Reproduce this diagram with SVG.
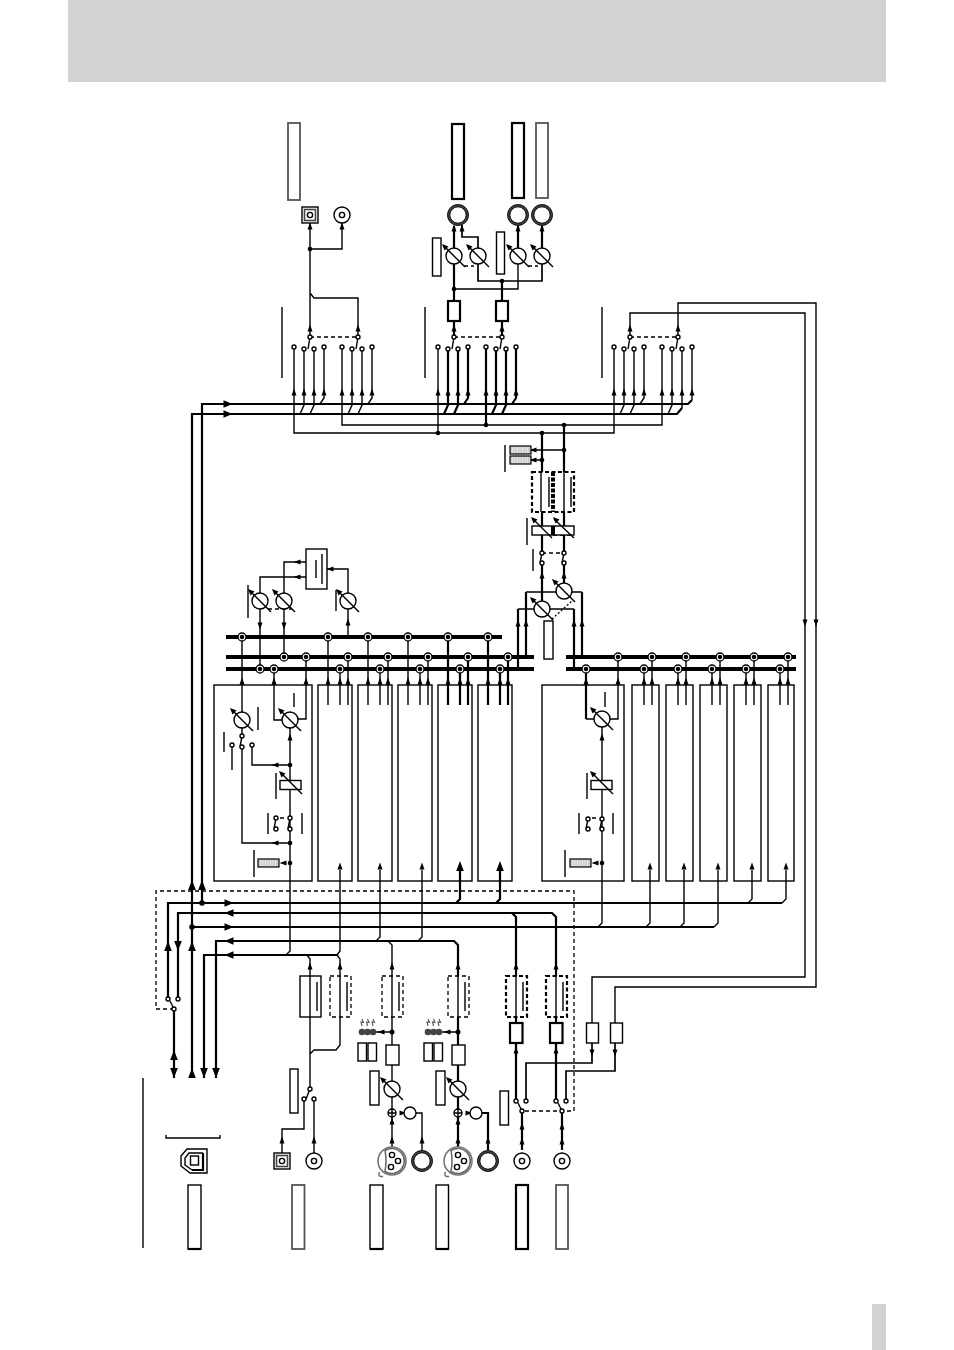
<svg xmlns="http://www.w3.org/2000/svg" width="954" height="1350" viewBox="0 0 954 1350">
<style>
.t{fill:none;stroke:#000;stroke-width:1.4}
.s{fill:none;stroke:#000;stroke-width:1.7}
.m{fill:none;stroke:#000;stroke-width:2.2}
.b{fill:none;stroke:#000;stroke-width:4}
.g{fill:none;stroke:#666;stroke-width:1.5}
.d{fill:none;stroke:#000;stroke-width:1.3;stroke-dasharray:4 3}
.dm{fill:none;stroke:#000;stroke-width:2.2;stroke-dasharray:4 2.5}
.w{fill:#fff;stroke:#000;stroke-width:1.4}
.wm{fill:#fff;stroke:#000;stroke-width:2.2}
.wg{fill:#fff;stroke:#555;stroke-width:1.8}
.k{fill:#000;stroke:none}
</style>
<defs>
<path id="u" d="M0 -4.500L2.500 2.500H-2.500Z"/>
<path id="d" d="M0 4.500L2.500 -2.500H-2.500Z"/>
<path id="l" d="M-4.500 0L2.500 -2.500V2.500Z"/>
<path id="r" d="M4.500 0L-2.500 -2.500V2.500Z"/>
<path id="U" d="M0 -5L3.800 5H-3.800Z"/>
<path id="D" d="M0 5L3.800 -5H-3.800Z"/>
<path id="L" d="M-4.500 0L4.500 -3.800V3.800Z"/>
<path id="R" d="M4.500 0L-4.500 -3.800V3.800Z"/>
<g id="knob">
<circle class="w" r="8"/>
<path class="t" d="M-9 -9L11 11"/>
<path class="k" d="M-12 -12L-5.500 -9.500L-9.500 -5.500Z"/>
</g>
<circle id="sw" class="w" r="2"/>
<g id="jn"><circle cx="0" cy="0" r="4" fill="#fff" stroke="#000" stroke-width="1.3"/><circle class="k" r="2.300"/></g>
<g id="ring"><circle r="9.300" fill="#fff" stroke="#444" stroke-width="2.800"/><circle r="10.500" fill="none" stroke="#000" stroke-width=".8"/><circle r="8.200" fill="none" stroke="#000" stroke-width=".8"/></g>
<g id="rca"><circle class="w" r="8"/><circle class="w" r="2.600"/></g>
<g id="xlr"><circle r="14" fill="#fff" stroke="#777" stroke-width="1.600"/><path class="g" d="M-7 -10.500A12.500 12.500 0 1 1 -7 10.500Q-5 0 -7 -10.500ZM-12.500 11Q-15 16 -9 15.500"/><circle class="w" r="2.600" cy="-6"/><circle class="w" r="2.600" cx="6"/><circle class="w" r="2.600" cx="-1" cy="6"/></g>
<g id="sum"><circle class="w" r="4"/><path class="t" d="M-4 0H4M0 -4V4"/></g>
<g id="meter"><rect width="21" height="8" fill="#ccc" stroke="#000" stroke-width="1.200"/><path d="M2.500 1V7M5 1V7M7.500 1V7M10 1V7M12.500 1V7M15 1V7M17.500 1V7" stroke="#eee" fill="none" stroke-width=".8"/></g>
<g id="led"><path d="M0 0L1.500 3.500L-1 3L0 7M5.500 0L7 3.500L4.500 3L5.500 7M11 0L12.500 3.500L10 3L11 7" stroke="#555" fill="none" stroke-width="1.100"/><circle cy="13" r="3.300" fill="#444"/><circle cx="5.500" cy="13" r="3.300" fill="#444"/><circle cx="11" cy="13" r="3.300" fill="#444"/></g>
<g id="fad"><rect class="w" x="-11" y="-4.500" width="21" height="9"/><path class="t" d="M-9 -11L11 9"/><path class="k" d="M-12 -14L-5.500 -11.500L-9.500 -7.500Z"/></g>
<g id="xfm"><path class="t" d="M0 0V41M7 6V35"/></g>
</defs>

<g id="header"><rect x="68" y="0" width="818" height="82" fill="#d2d2d2"/></g>
<g id="page-tab"><rect x="872" y="1304" width="14" height="46" fill="#d2d2d2"/></g>

<g id="connectors">
<path class="d" d="M174 1009H156V891H574V1111H522"/>
<path class="m" d="M168 999V903H782M178 999V913H552L556 917V976M512 913L516 917V976M192 1078V414H677L682 408M202 903V404H688L692 400M192 927H714M216 1078V941H454L458 945V976M204 1078V955H337M174 1009V1078"/>
<path class="t" d="M682 408V349M692 400V347M786 870V899L782 903M752 870V899L748 903M718 870V923L714 927M684 870V923L680 927M650 870V923L646 927M602 727V923L598 927"/>
<path class="t" d="M290 728V951L286 955M340 870V951L337 955M340 976V959L337 955M310 976V959L307 955M380 870V937L376 941M422 870V937L418 941M392 976V945L388 941"/>
<path class="m" d="M460 870V899L456 903M500 870V899L496 903"/>
<path class="t" d="M282 1153V1129H304V1101M314 1153V1101M310 1089V1017M310 1054L314 1050H336L340 1045V1017"/>
<path class="t" d="M392 1017V1081M392 1097V1150M392 1032H376M422 1150V1113H416"/>
<path class="m" d="M458 1017V1081M458 1097V1150M488 1150V1113H482"/>
<path class="t" d="M458 1032H442M400 1113H404M466 1113H470"/>
<path class="m" d="M516 1017V1023M516 1043V1099M522 1111V1150M556 1017V1023M556 1043V1099M562 1111V1150"/>
<path class="s" d="M526 1099V1063H592V1043M566 1099V1071H615V1043"/>
<path class="t" d="M592 1023V977H805V313H630V337M615 1023V987H816V303H678V337"/>
<path class="b" d="M226 637H502M226 657H534M226 669H534M566 657H796M566 669H796"/>
<path class="m" d="M448 637V705M488 637V705M460 669V705M500 669V705M468 657V705M508 657V705"/>
<path class="t" d="M242 637V712M274 669V720H282M306 657V719H298M328 637V705M340 669V705M348 657V705M368 637V705M380 669V705M388 657V705M408 637V705M420 669V705M428 657V705"/>
<path class="m" d="M586 669V719"/>
<path class="t" d="M586 719H594M618 657V719H610M644 669V705M652 657V705M678 669V705M686 657V705M712 669V705M720 657V705M746 669V705M754 657V705M780 669V705M788 657V705"/>
<path class="t" d="M242 728V736M242 747V843H290M252 747V765H290M232 747V770"/>
<path class="t" d="M260 593V577H306M284 593V562H306M348 593V569H327M260 609V669M284 609V657M348 609V637"/>
<path class="m" d="M518 669V609M526 657V592M574 669V609M582 657V592M542 601V563M564 583V563M542 553V512M564 553V512M542 472V433M564 472V425"/>
<path class="t" d="M518 609H534M526 592H556M574 609H550M582 592H572M564 450H530M542 460H530"/>
<path class="t" d="M294 347V433H614V347M342 347V425H662V347"/>
<path class="t" d="M304 349V405L300 414M314 349V405L310 414M324 347V398L320 404M352 349V405L348 414M362 349V405L358 414M372 347V398L368 404"/>
<path class="t" d="M438 347V433"/>
<path class="m" d="M448 349V405L444 414M458 349V405L454 414M468 347V398L464 404M486 347V425M496 349V405L492 414M506 349V405L502 414M516 347V398L512 404"/>
<path class="t" d="M624 349V405L620 414M634 349V405L630 414M644 347V398L640 404M672 349V405L668 414"/>
<path class="d" d="M310 337H358M454 337H502M630 337H678M542 553H564M268 609H292"/>
<path class="d" style="stroke-dasharray:2 2" d="M552 619L572 601"/>
<path class="d" d="M553 535H574M280 818H286M592 818H598"/>
<path class="t" d="M310 337V223M310 249H342V223M358 337V298H314L310 293"/>
<path class="m" d="M454 337V321M454 301V264M454 248V226M502 337V321M502 301V281"/>
<path class="t" d="M454 289H518V264"/>
<path class="m" d="M518 248V226M542 248V226"/>
<path class="s" d="M542 264V281H478V264M478 248V237H462V225"/>
<path class="t" d="M282 307V378M425 307V378M602 307V378M143 1078V1248M248 585V618M336 590V611M224 732V752M258 707V730M294 693V707M276 773V799M268 813V834M302 813V834M254 850V877M587 773V799M579 813V834M613 813V834M565 850V877M605 692V707M505 445V472M533 549V571M527 518V545M166 1135V1138H220V1135"/>

<g class="k">
<use href="#R" x="229" y="903"/><use href="#L" x="229" y="913"/><use href="#R" x="229" y="927"/><use href="#L" x="229" y="941"/><use href="#L" x="229" y="955"/>
<use href="#R" x="228" y="404"/><use href="#R" x="228" y="414"/>
<use href="#U" x="168" y="946"/><use href="#D" x="178" y="946"/><use href="#U" x="192" y="946"/><use href="#U" x="192" y="885"/><use href="#U" x="202" y="885"/>
<use href="#U" x="174" y="1055"/><use href="#D" x="174" y="1073"/><use href="#U" x="192" y="1073"/><use href="#D" x="204" y="1073"/><use href="#D" x="216" y="1073"/>
<use href="#u" x="282" y="1141"/><use href="#u" x="314" y="1141"/><use href="#u" x="310" y="967"/><use href="#u" x="340" y="967"/><use href="#u" x="392" y="967"/><use href="#u" x="458" y="967"/><use href="#u" x="516" y="967"/><use href="#u" x="556" y="967"/>
<use href="#l" x="382" y="1032"/><use href="#l" x="448" y="1032"/>
<use href="#u" x="392" y="1122"/><use href="#u" x="392" y="1141"/><use href="#u" x="422" y="1141"/><use href="#r" x="402" y="1113"/>
<use href="#u" x="458" y="1122"/><use href="#u" x="458" y="1141"/><use href="#u" x="488" y="1141"/><use href="#r" x="468" y="1113"/>
<use href="#u" x="516" y="1051"/><use href="#u" x="556" y="1051"/><use href="#u" x="522" y="1127"/><use href="#u" x="522" y="1142"/><use href="#u" x="562" y="1127"/><use href="#u" x="562" y="1142"/>
<use href="#d" x="592" y="1052"/><use href="#d" x="615" y="1052"/>
<use href="#d" x="805" y="622"/><use href="#d" x="816" y="622"/>
<use href="#u" x="242" y="682"/><use href="#u" x="274" y="682"/><use href="#u" x="306" y="682"/><use href="#u" x="328" y="682"/><use href="#u" x="340" y="682"/><use href="#u" x="348" y="682"/><use href="#u" x="368" y="682"/><use href="#u" x="380" y="682"/><use href="#u" x="388" y="682"/><use href="#u" x="408" y="682"/><use href="#u" x="420" y="682"/><use href="#u" x="428" y="682"/><use href="#u" x="448" y="682"/><use href="#u" x="460" y="682"/><use href="#u" x="468" y="682"/><use href="#u" x="488" y="682"/><use href="#u" x="500" y="682"/><use href="#u" x="508" y="682"/>
<use href="#u" x="586" y="682"/><use href="#u" x="618" y="682"/><use href="#u" x="644" y="682"/><use href="#u" x="652" y="682"/><use href="#u" x="678" y="682"/><use href="#u" x="686" y="682"/><use href="#u" x="712" y="682"/><use href="#u" x="720" y="682"/><use href="#u" x="746" y="682"/><use href="#u" x="754" y="682"/><use href="#u" x="780" y="682"/><use href="#u" x="788" y="682"/>
<use href="#u" x="340" y="867"/><use href="#u" x="380" y="867"/><use href="#u" x="422" y="867"/><use href="#U" x="460" y="866"/><use href="#U" x="500" y="866"/><use href="#u" x="650" y="867"/><use href="#u" x="684" y="867"/><use href="#u" x="718" y="867"/><use href="#u" x="752" y="867"/><use href="#u" x="786" y="867"/>
<use href="#u" x="290" y="738"/><use href="#u" x="602" y="738"/><use href="#l" x="276" y="765"/><use href="#l" x="276" y="843"/>
<use href="#l" x="284" y="863"/><use href="#l" x="596" y="863"/>
<use href="#l" x="298" y="562"/><use href="#l" x="298" y="577"/><use href="#l" x="331" y="569"/><use href="#d" x="260" y="625"/><use href="#d" x="284" y="625"/><use href="#u" x="348" y="623"/>
<use href="#u" x="518" y="624"/><use href="#u" x="526" y="624"/><use href="#u" x="574" y="624"/><use href="#u" x="582" y="624"/><use href="#u" x="542" y="576"/><use href="#u" x="564" y="576"/>
<use href="#l" x="534" y="450"/><use href="#l" x="534" y="460"/>
<use href="#u" x="294" y="393"/><use href="#u" x="304" y="393"/><use href="#u" x="314" y="393"/><use href="#u" x="324" y="393"/><use href="#u" x="342" y="393"/><use href="#u" x="352" y="393"/><use href="#u" x="362" y="393"/><use href="#u" x="372" y="393"/>
<use href="#u" x="438" y="393"/><use href="#u" x="448" y="393"/><use href="#u" x="458" y="393"/><use href="#u" x="468" y="393"/><use href="#u" x="486" y="393"/><use href="#u" x="496" y="393"/><use href="#u" x="506" y="393"/><use href="#u" x="516" y="393"/>
<use href="#u" x="614" y="393"/><use href="#u" x="624" y="393"/><use href="#u" x="634" y="393"/><use href="#u" x="644" y="393"/><use href="#u" x="662" y="393"/><use href="#u" x="672" y="393"/><use href="#u" x="682" y="393"/><use href="#u" x="692" y="393"/>
<use href="#u" x="310" y="329"/><use href="#u" x="358" y="329"/><use href="#u" x="454" y="329"/><use href="#u" x="502" y="329"/><use href="#u" x="630" y="329"/><use href="#u" x="678" y="329"/>
<use href="#u" x="310" y="227"/><use href="#u" x="342" y="227"/><use href="#u" x="454" y="229"/><use href="#u" x="462" y="229"/><use href="#u" x="518" y="229"/><use href="#u" x="542" y="229"/>
<circle cx="202" cy="903" r="2.800"/><circle cx="192" cy="927" r="2.800"/>
<circle cx="392" cy="1032" r="2.500"/><circle cx="458" cy="1032" r="2.500"/>
<circle cx="290" cy="765" r="2.300"/><circle cx="290" cy="843" r="2.300"/><circle cx="290" cy="863" r="2.300"/><circle cx="602" cy="863" r="2.300"/>
<circle cx="348" cy="637" r="2"/><circle cx="526" cy="657" r="2"/><circle cx="518" cy="669" r="2"/><circle cx="574" cy="669" r="2"/><circle cx="582" cy="657" r="2"/>
<circle cx="564" cy="450" r="2.300"/><circle cx="542" cy="460" r="2.300"/><circle cx="542" cy="433" r="2.300"/><circle cx="564" cy="425" r="2.300"/><circle cx="438" cy="433" r="2.300"/><circle cx="486" cy="425" r="2.300"/>
<circle cx="310" cy="249" r="2.300"/><circle cx="454" cy="289" r="2.300"/><circle cx="502" cy="281" r="2.300"/>
</g>
</g>

<g id="bus-nodes">
<use href="#jn" x="242" y="637"/><use href="#jn" x="328" y="637"/><use href="#jn" x="368" y="637"/><use href="#jn" x="408" y="637"/><use href="#jn" x="448" y="637"/><use href="#jn" x="488" y="637"/>
<use href="#jn" x="284" y="657"/><use href="#jn" x="306" y="657"/><use href="#jn" x="348" y="657"/><use href="#jn" x="388" y="657"/><use href="#jn" x="428" y="657"/><use href="#jn" x="468" y="657"/><use href="#jn" x="508" y="657"/>
<use href="#jn" x="260" y="669"/><use href="#jn" x="274" y="669"/><use href="#jn" x="340" y="669"/><use href="#jn" x="380" y="669"/><use href="#jn" x="420" y="669"/><use href="#jn" x="460" y="669"/><use href="#jn" x="500" y="669"/>
<use href="#jn" x="618" y="657"/><use href="#jn" x="652" y="657"/><use href="#jn" x="686" y="657"/><use href="#jn" x="720" y="657"/><use href="#jn" x="754" y="657"/><use href="#jn" x="788" y="657"/>
<use href="#jn" x="586" y="669"/><use href="#jn" x="644" y="669"/><use href="#jn" x="678" y="669"/><use href="#jn" x="712" y="669"/><use href="#jn" x="746" y="669"/><use href="#jn" x="780" y="669"/>
</g>

<g id="usb-in">
<rect class="w" x="188" y="1185" width="13" height="64"/><path class="m" d="M188 1249H201"/>
<path class="t" d="M207 1149H187L181 1156V1166L190 1173H207Z"/><path class="m" d="M203 1153V1170H192"/><path class="t" d="M203 1153H189L185 1158V1165L192 1170"/><rect class="t" x="190.500" y="1156" width="8" height="9"/>
</g>
<g id="usb-switch">
<path class="t" d="M174 1009L170 1001"/><use href="#sw" x="168" y="999"/><use href="#sw" x="178" y="999"/><use href="#sw" x="174" y="1009"/>
</g>

<g id="digital-in">
<rect class="wg" x="292" y="1185" width="12.500" height="64"/>
<rect class="w" x="274" y="1153" width="16" height="16"/><rect x="276.500" y="1155.500" width="11" height="11" fill="#fff" stroke="#444" stroke-width="1.600"/><circle class="w" cx="282" cy="1161" r="2.600"/>
<use href="#rca" x="314" y="1161"/>
<rect class="w" x="290" y="1069" width="8" height="44"/>
<path class="t" d="M310 1089L306 1099"/><use href="#sw" x="304" y="1099"/><use href="#sw" x="314" y="1099"/><use href="#sw" x="310" y="1089"/>
<rect class="w" x="300" y="976" width="21" height="41"/><use href="#xfm" x="310" y="976"/>
<rect x="330" y="976" width="21" height="41" class="d"/><use href="#xfm" x="340" y="976"/>
</g>

<g id="ch3">
<rect class="w" x="370" y="1185" width="13" height="64"/><path class="m" d="M370 1249H383"/>
<use href="#xlr" x="392" y="1161"/><use href="#ring" x="422" y="1161"/>
<use href="#sum" x="392" y="1113"/><circle class="w" cx="410" cy="1113" r="6"/>
<use href="#knob" x="392" y="1089"/><rect class="w" x="370" y="1071" width="9" height="34"/>
<rect class="w" x="386" y="1045" width="13" height="20"/>
<rect class="w" x="358" y="1043" width="8.500" height="18"/><rect class="w" x="368" y="1043" width="8.500" height="18"/>
<use href="#led" x="362" y="1019"/>
<rect x="382" y="976" width="21" height="41" class="d"/><use href="#xfm" x="392" y="976"/>
</g>

<g id="ch4">
<rect class="w" x="436" y="1185" width="12.500" height="64"/><path class="m" d="M436 1249H449"/>
<use href="#xlr" x="458" y="1161"/><use href="#ring" x="488" y="1161"/>
<use href="#sum" x="458" y="1113"/><circle class="w" cx="476" cy="1113" r="6"/>
<use href="#knob" x="458" y="1089"/><rect class="w" x="436" y="1071" width="9" height="34"/>
<rect class="w" x="452" y="1045" width="13" height="20"/>
<rect class="w" x="424" y="1043" width="8.500" height="18"/><rect class="w" x="434" y="1043" width="8.500" height="18"/>
<use href="#led" x="428" y="1019"/>
<rect x="448" y="976" width="21" height="41" class="d"/><use href="#xfm" x="458" y="976"/>
</g>

<g id="ch5">
<rect class="wm" x="516" y="1185" width="12" height="64"/>
<use href="#rca" x="522" y="1161"/>
<rect class="w" x="500" y="1091" width="8.500" height="34"/>
<path class="t" d="M522 1111L518 1103"/><use href="#sw" x="516" y="1101"/><use href="#sw" x="526" y="1101"/><use href="#sw" x="522" y="1111"/>
<rect class="wm" x="510" y="1023" width="12.500" height="20"/>
<rect x="506" y="976" width="21" height="41" class="dm"/><use href="#xfm" x="516" y="976"/>
</g>

<g id="ch6">
<rect class="wg" x="556" y="1185" width="12" height="64"/>
<use href="#rca" x="562" y="1161"/>
<path class="t" d="M562 1111L558 1103"/><use href="#sw" x="556" y="1101"/><use href="#sw" x="566" y="1101"/><use href="#sw" x="562" y="1111"/>
<rect class="wm" x="550" y="1023" width="12.500" height="20"/>
<rect x="546" y="976" width="21" height="41" class="dm"/><use href="#xfm" x="556" y="976"/>
</g>

<g id="return-amps">
<rect class="w" x="586.500" y="1023" width="12" height="20"/><rect class="w" x="610.500" y="1023" width="12" height="20"/>
</g>

<g id="strip-1">
<rect class="t" x="214" y="685" width="98" height="196"/>
<use href="#knob" x="242" y="720"/><use href="#knob" x="290" y="720"/>
<path class="t" d="M242 736L240 747"/><use href="#sw" x="242" y="736"/><use href="#sw" x="232" y="745"/><use href="#sw" x="242" y="747"/><use href="#sw" x="252" y="745"/>
<use href="#fad" x="291" y="785"/>
<path class="t" d="M290 818L288 829M276 818L274 829"/><use href="#sw" x="290" y="818"/><use href="#sw" x="290" y="829"/><use href="#sw" x="276" y="818"/><use href="#sw" x="276" y="829"/>
<use href="#meter" x="258" y="859"/>
</g>
<g id="strip-2"><rect class="t" x="318" y="685" width="34" height="196"/></g>
<g id="strip-3"><rect class="t" x="358" y="685" width="34" height="196"/></g>
<g id="strip-4"><rect class="t" x="398" y="685" width="34" height="196"/></g>
<g id="strip-5"><rect class="t" x="438" y="685" width="34" height="196"/></g>
<g id="strip-6"><rect class="t" x="478" y="685" width="34" height="196"/></g>

<g id="strip-7">
<rect class="t" x="542" y="685" width="82" height="196"/>
<use href="#knob" x="602" y="719"/>
<use href="#fad" x="602" y="785"/>
<path class="t" d="M602 819L600 829M588 819L586 829"/><use href="#sw" x="602" y="819"/><use href="#sw" x="602" y="829"/><use href="#sw" x="588" y="819"/><use href="#sw" x="588" y="829"/>
<use href="#meter" x="570" y="859"/>
</g>
<g id="strip-8"><rect class="t" x="632" y="685" width="27" height="196"/></g>
<g id="strip-9"><rect class="t" x="666" y="685" width="27" height="196"/></g>
<g id="strip-10"><rect class="t" x="700" y="685" width="27" height="196"/></g>
<g id="strip-11"><rect class="t" x="734" y="685" width="27" height="196"/></g>
<g id="strip-12"><rect class="t" x="768" y="685" width="26" height="196"/></g>

<g id="aux-fx">
<rect class="w" x="306" y="549" width="21" height="40"/>
<path class="t" d="M316 560V578M322 554V584"/>
<use href="#knob" x="260" y="601"/><use href="#knob" x="284" y="601"/><use href="#knob" x="348" y="601"/>
</g>

<g id="main-section">
<rect class="w" x="544" y="621" width="9" height="38"/>
<use href="#knob" x="542" y="609"/><use href="#knob" x="564" y="591"/>
<path class="t" d="M542 553L540 563M564 553L562 563"/><use href="#sw" x="542" y="553"/><use href="#sw" x="542" y="563"/><use href="#sw" x="564" y="553"/><use href="#sw" x="564" y="563"/>
<rect class="w" x="532" y="526" width="42" height="9"/><rect class="k" x="551" y="526" width="4" height="9"/>
<path class="t" d="M533 519L552 538M554 519L574 538"/><path class="k" d="M531 517L537.500 519.500L533.500 523.500ZM553 517L559.500 519.500L555.500 523.500Z"/>
<rect x="532" y="472" width="42" height="40" class="dm"/><path class="b" style="stroke-dasharray:4 1.500" d="M553 472V512"/>
<path class="t" d="M541 472V512M549 477V507M564 472V512M571 477V507"/>
<use href="#meter" x="510" y="446"/><use href="#meter" x="510" y="456"/>
</g>

<g id="output-digital">
<rect class="wg" x="288" y="123" width="12" height="77"/>
<rect class="w" x="302" y="207" width="16" height="16"/><rect x="304.500" y="209.500" width="11" height="11" fill="#fff" stroke="#444" stroke-width="1.600"/><circle class="w" cx="310" cy="215" r="2.600"/>
<use href="#rca" x="342" y="215"/>
<path class="t" d="M310 337L308 349M358 337L356 349"/>
<use href="#sw" x="310" y="337"/><use href="#sw" x="358" y="337"/>
<use href="#sw" x="294" y="347"/><use href="#sw" x="304" y="349"/><use href="#sw" x="314" y="349"/><use href="#sw" x="324" y="347"/><use href="#sw" x="342" y="347"/><use href="#sw" x="352" y="349"/><use href="#sw" x="362" y="349"/><use href="#sw" x="372" y="347"/>
</g>

<g id="output-monitor">
<rect class="wm" x="452" y="124" width="12" height="75"/><rect class="wm" x="512" y="123" width="12" height="75"/><rect class="wg" x="536" y="123" width="12" height="75"/>
<use href="#ring" x="458" y="215"/><use href="#ring" x="518" y="215"/><use href="#ring" x="542" y="215"/>
<use href="#knob" x="454" y="256"/><use href="#knob" x="478" y="256"/><use href="#knob" x="518" y="256"/><use href="#knob" x="542" y="256"/>
<path class="d" d="M464 266H474M528 266H538"/>
<rect class="w" x="432.500" y="238" width="8.500" height="38"/><rect class="w" x="496.500" y="232" width="8" height="42"/>
<rect class="wm" x="448" y="301" width="12" height="20"/><rect class="wm" x="496" y="301" width="12" height="20"/>
<path class="t" d="M454 337L452 349M502 337L500 349"/>
<use href="#sw" x="454" y="337"/><use href="#sw" x="502" y="337"/>
<use href="#sw" x="438" y="347"/><use href="#sw" x="448" y="349"/><use href="#sw" x="458" y="349"/><use href="#sw" x="468" y="347"/><use href="#sw" x="486" y="347"/><use href="#sw" x="496" y="349"/><use href="#sw" x="506" y="349"/><use href="#sw" x="516" y="347"/>
</g>

<g id="output-return">
<path class="t" d="M630 337L628 349M678 337L676 349"/>
<use href="#sw" x="630" y="337"/><use href="#sw" x="678" y="337"/>
<use href="#sw" x="614" y="347"/><use href="#sw" x="624" y="349"/><use href="#sw" x="634" y="349"/><use href="#sw" x="644" y="347"/><use href="#sw" x="662" y="347"/><use href="#sw" x="672" y="349"/><use href="#sw" x="682" y="349"/><use href="#sw" x="692" y="347"/>
</g>
</svg>
